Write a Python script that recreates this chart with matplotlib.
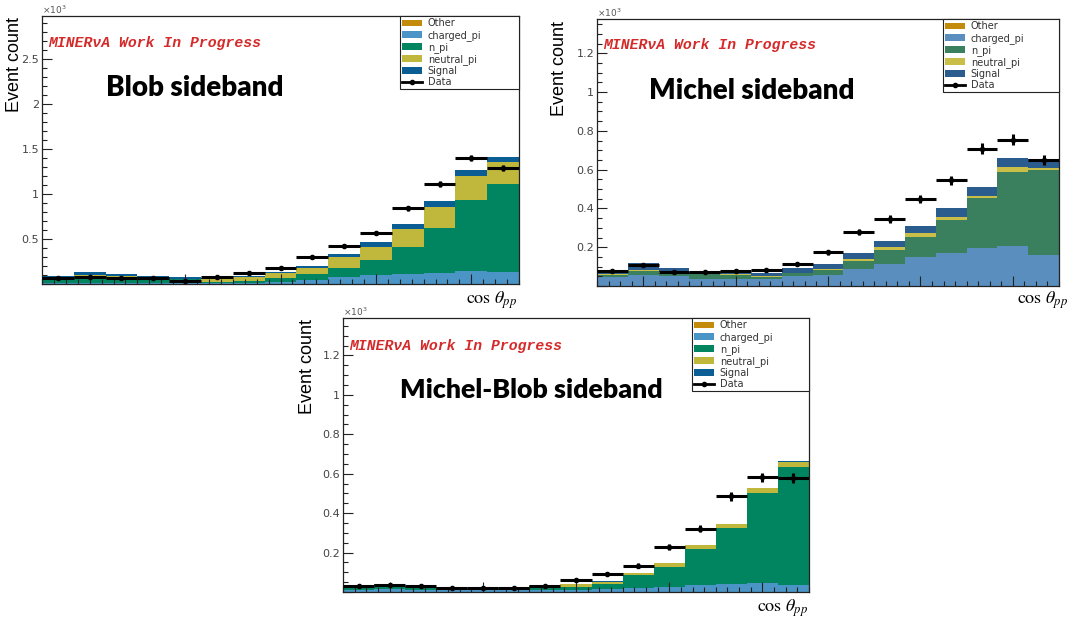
import numpy as np
import matplotlib
matplotlib.use("Agg")
import matplotlib.pyplot as plt
from matplotlib.patches import Patch
from matplotlib.lines import Line2D
from matplotlib.ticker import MultipleLocator, NullFormatter

# ---------------- data (units of 10^3 events) ----------------
components = ["Other", "charged_pi", "n_pi", "neutral_pi", "Signal"]

blob_data = [0.063, 0.080, 0.070, 0.063, 0.033, 0.078, 0.119, 0.174, 0.300, 0.420, 0.567, 0.840, 1.107, 1.400, 1.290]
blob_err = [0.008, 0.009, 0.008, 0.008, 0.006, 0.009, 0.011, 0.013, 0.017, 0.020, 0.024, 0.029, 0.033, 0.037, 0.036]
blob_other = [0.001, 0.001, 0.001, 0.001, 0.001, 0.001, 0.001, 0.001, 0.001, 0.001, 0.001, 0.001, 0.001, 0.001, 0.001]
blob_charged = [0.012, 0.015, 0.012, 0.012, 0.010, 0.010, 0.012, 0.025, 0.044, 0.080, 0.100, 0.111, 0.126, 0.148, 0.137]
blob_npi = [0.055, 0.070, 0.070, 0.060, 0.045, 0.015, 0.020, 0.040, 0.067, 0.093, 0.168, 0.300, 0.493, 0.786, 0.974]
blob_neutral = [0.007, 0.012, 0.008, 0.006, 0.005, 0.028, 0.045, 0.055, 0.070, 0.126, 0.140, 0.196, 0.233, 0.270, 0.248]
blob_signal = [0.015, 0.033, 0.020, 0.015, 0.014, 0.012, 0.013, 0.017, 0.022, 0.030, 0.055, 0.063, 0.070, 0.063, 0.055]

michel_data = [0.078, 0.109, 0.072, 0.071, 0.078, 0.083, 0.114, 0.174, 0.279, 0.345, 0.450, 0.546, 0.708, 0.755, 0.650]
michel_err = [0.009, 0.010, 0.008, 0.008, 0.009, 0.009, 0.011, 0.013, 0.017, 0.019, 0.021, 0.023, 0.027, 0.027, 0.025]
michel_other = [0.001, 0.001, 0.001, 0.001, 0.001, 0.001, 0.001, 0.001, 0.001, 0.001, 0.001, 0.001, 0.001, 0.001, 0.001]
michel_charged = [0.046, 0.055, 0.050, 0.037, 0.036, 0.036, 0.050, 0.054, 0.086, 0.112, 0.150, 0.167, 0.193, 0.207, 0.159]
michel_npi = [0.012, 0.020, 0.017, 0.022, 0.022, 0.007, 0.014, 0.028, 0.043, 0.072, 0.103, 0.172, 0.258, 0.382, 0.436]
michel_neutral = [0.003, 0.004, 0.003, 0.002, 0.003, 0.007, 0.003, 0.007, 0.007, 0.017, 0.017, 0.014, 0.014, 0.022, 0.012]
michel_signal = [0.017, 0.038, 0.024, 0.012, 0.017, 0.014, 0.026, 0.021, 0.031, 0.029, 0.038, 0.047, 0.047, 0.047, 0.048]

mb_data = [0.029, 0.037, 0.029, 0.022, 0.020, 0.022, 0.032, 0.059, 0.090, 0.134, 0.229, 0.320, 0.485, 0.582, 0.578]
mb_err = [0.005, 0.006, 0.005, 0.005, 0.0045, 0.005, 0.006, 0.008, 0.0095, 0.012, 0.015, 0.018, 0.022, 0.024, 0.024]
mb_other = [0.0005, 0.0005, 0.0005, 0.0005, 0.0005, 0.0005, 0.0005, 0.0005, 0.0005, 0.0005, 0.0005, 0.0005, 0.0005, 0.0005, 0.0005]
mb_charged = [0.012, 0.013, 0.012, 0.011, 0.012, 0.012, 0.012, 0.012, 0.014, 0.022, 0.025, 0.037, 0.042, 0.046, 0.037]
mb_npi = [0.017, 0.025, 0.017, 0.012, 0.010, 0.010, 0.020, 0.013, 0.025, 0.064, 0.102, 0.180, 0.283, 0.455, 0.595]
mb_neutral = [0.001, 0.001, 0.001, 0.001, 0.001, 0.001, 0.002, 0.013, 0.012, 0.010, 0.020, 0.020, 0.019, 0.025, 0.025]
mb_signal = [0.002, 0.002, 0.002, 0.001, 0.001, 0.001, 0.002, 0.001, 0.002, 0.002, 0.002, 0.003, 0.003, 0.003, 0.005]

bin_edges = np.linspace(-1.0, 1.0, 16)

titles = ["Blob sideband", "Michel sideband", "Michel-Blob sideband"]

# ---------------- styling ----------------
W, H = 1073, 620
fig = plt.figure(figsize=(W / 100, H / 100), dpi=100)
fig.patch.set_facecolor("white")

colors_a = ["#C48A0C", "#4A95C5", "#008560", "#BFB83C", "#0A5E94"]
colors_b = ["#C48A0C", "#5A8EBE", "#3A7F5E", "#C8BE48", "#2A5C8E"]


def fx(x):
    return x / W


def fy(y):
    return 1 - y / H


panels = [
    dict(rect=(42, 16, 519, 284), ymax=2.98, major=0.5, minor=0.1,
         stack=[blob_other, blob_charged, blob_npi, blob_neutral, blob_signal],
         data=blob_data, err=blob_err, colors=colors_a,
         redtext=(48, 43), title=(106, 88), tsize=20.0, ylab=(15, 65), x10=(42, 10), xlab=(517, 300),
         leg=(400, 16, 519, 83)),
    dict(rect=(597, 19, 1059, 286), ymax=1.377, major=0.2, minor=0.05,
         stack=[michel_other, michel_charged, michel_npi, michel_neutral, michel_signal],
         data=michel_data, err=michel_err, colors=colors_b,
         redtext=(603, 45), title=(649, 91), tsize=20.0, ylab=(560, 68), x10=(597, 13), xlab=(1068, 300),
         leg=(943, 19, 1059, 86)),
    dict(rect=(343, 318, 809, 592), ymax=1.39, major=0.2, minor=0.05,
         stack=[mb_other, mb_charged, mb_npi, mb_neutral, mb_signal],
         data=mb_data, err=mb_err, colors=colors_a,
         redtext=(349, 346), title=(400, 390), tsize=19.3, ylab=(307, 367), x10=(343, 312), xlab=(808, 608),
         leg=(692, 318, 809, 387)),
]

centers = 0.5 * (bin_edges[:-1] + bin_edges[1:])
widths = np.diff(bin_edges)

for p, title in zip(panels, titles):
    x0, y0, x1, y1 = p["rect"]
    ax = fig.add_axes([fx(x0), fy(y1), (x1 - x0) / W, (y1 - y0) / H])
    bottom = np.zeros(len(centers))
    for vals, col in zip(p["stack"], p["colors"]):
        v = np.array(vals)
        ax.bar(centers, v, width=widths, bottom=bottom, color=col, linewidth=0, align="center")
        bottom = bottom + v
    ax.errorbar(centers, p["data"], xerr=widths / 2, yerr=p["err"], fmt="o", color="black",
                ms=3, elinewidth=2.2, capsize=0, zorder=5)
    ax.set_xlim(-1, 1)
    ax.set_ylim(0, p["ymax"])
    ax.yaxis.set_major_locator(MultipleLocator(p["major"]))
    ax.yaxis.set_minor_locator(MultipleLocator(p["minor"]))
    ax.xaxis.set_major_locator(MultipleLocator(0.4))
    ax.xaxis.set_minor_locator(MultipleLocator(0.05))
    ax.xaxis.set_major_formatter(NullFormatter())
    ax.tick_params(axis="both", which="major", direction="in", length=7, width=0.8, color="#222222")
    ax.tick_params(axis="both", which="minor", direction="in", length=3.5, width=0.8, color="#222222")
    ax.tick_params(axis="y", labelsize=8, labelcolor="#444444", pad=2)
    ax.tick_params(top=False, right=False)
    ax.yaxis.set_major_formatter(plt.FuncFormatter(lambda v, pos: "" if abs(v) < 1e-9 else ("%g" % round(v, 3))))
    for s in ax.spines.values():
        s.set_linewidth(0.9)
        s.set_color("#222222")

    # legend
    lx0, ly0, lx1, ly1 = p["leg"]
    handles = [Patch(facecolor=c, edgecolor="none") for c in p["colors"]]
    handles.append(Line2D([0], [0], color="black", lw=2, marker="o", ms=3))
    labels = components + ["Data"]
    bb_x0 = (lx0 - x0) / (x1 - x0)
    bb_w = (lx1 - lx0) / (x1 - x0)
    bb_h = (ly1 - ly0) / (y1 - y0)
    bb_y0 = 1 - (ly0 - y0) / (y1 - y0) - bb_h
    leg = ax.legend(handles, labels, loc="upper left", bbox_to_anchor=(bb_x0, bb_y0, bb_w, bb_h),
                    mode="expand", borderaxespad=0, fontsize=7, handlelength=2.0, handleheight=0.7,
                    handletextpad=0.6, labelspacing=0.12, borderpad=0.25, fancybox=False,
                    framealpha=1, edgecolor="#222222")
    leg.get_frame().set_linewidth(0.8)
    for t in leg.get_texts():
        t.set_color("#333333")

    # texts
    rx, ry = p["redtext"]
    fig.text(fx(rx), fy(ry), "MINERνA Work In Progress", color="#D42A2A", fontsize=10.6,
             family=["Liberation Mono", "DejaVu Sans Mono"], weight="bold", style="italic",
             ha="left", va="center")
    tx, ty = p["title"]
    fig.text(fx(tx), fy(ty), title, color="black", fontsize=p["tsize"], family=["Lato", "DejaVu Sans"],
             weight="heavy", ha="left", va="center")
    yx, yy = p["ylab"]
    fig.text(fx(yx), fy(yy), "Event count", color="black", fontsize=13,
             family=["Liberation Sans", "DejaVu Sans"], rotation=90, ha="center", va="center")
    xx, xy = p["x10"]
    fig.text(fx(xx), fy(xy), r"$\times10^{3}$", color="#555555", fontsize=6.5, ha="left", va="center")
    lx, ly = p["xlab"]
    fig.text(fx(lx), fy(ly), r"$\cos\,\theta_{pp}$", color="black", fontsize=13, ha="right", va="center",
             math_fontfamily="stix")

fig.savefig("out.png", dpi=100, facecolor="white")
